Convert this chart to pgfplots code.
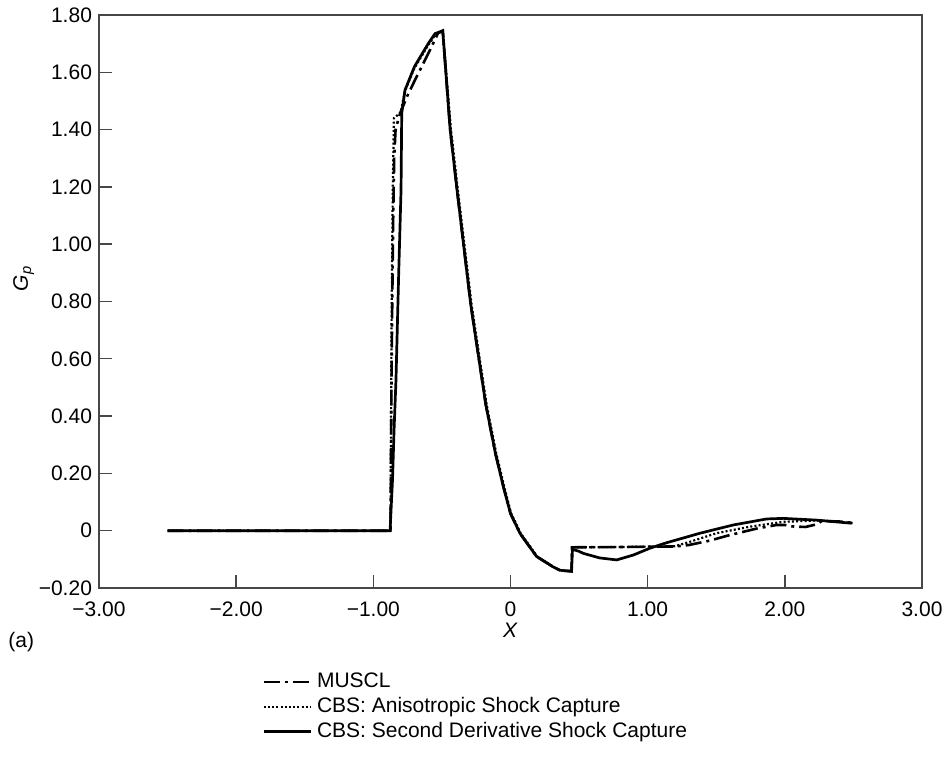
\documentclass[border=0pt]{standalone}
\usepackage{fontspec}
\setmainfont{Liberation Sans}
\usepackage{pgfplots}
\pgfplotsset{compat=1.18}
\begin{document}
\begin{tikzpicture}[font=\fontsize{10.5}{12.6}\selectfont]
\begin{axis}[
  name=ax,
  scale only axis,
  width=411.5pt, height=286.5pt,
  xmin=-3, xmax=3, ymin=-0.2, ymax=1.8,
  xtick={-3,-2,-1,0,1,2,3},
  xticklabels={−3.00,−2.00,−1.00,0,1.00,2.00,3.00},
  ytick={-0.2,0,0.2,0.4,0.6,0.8,1.0,1.2,1.4,1.6,1.8},
  yticklabels={−0.20,0,0.20,0.40,0.60,0.80,1.00,1.20,1.40,1.60,1.80},
  xticklabel style={yshift=-3.5pt},
  tick align=inside,
  xtick pos=lower, ytick pos=left,
  major tick length=6.5pt,
  axis line style={black!72, line width=0.7pt},
  tick style={black!72, line width=0.7pt},
  xlabel={\textit{X}},
  ylabel={\textit{G}\textsubscript{\textit{p}}},
  xlabel style={at={(axis description cs:0.5,0)}, anchor=center, yshift=-21pt},
  ylabel style={at={(axis description cs:-0.0915,0.54)}, anchor=center, rotate=0},
  clip=false,
  legend style={at={(axis description cs:0.198,-0.147)}, anchor=north west,
    draw=none, fill=none, inner sep=0pt, row sep=2.7pt,
    font=\fontsize{10.5}{12.6}\selectfont,
    nodes={inner xsep=2.5pt, inner ysep=0.3pt}},
  legend cell align=left,
  legend image code/.code={\draw[#1] (0pt,0pt) -- (23.5pt,0pt);},
]
% MUSCL
\addplot[black, line width=1.3pt, dash pattern=on 8pt off 2.5pt on 1.5pt off 2.5pt] coordinates {
(-2.5,0) (-0.875,0) (-0.872,0.2) (-0.868,0.5) (-0.862,0.8) (-0.855,1.1) (-0.848,1.3) (-0.838,1.40)
(-0.805,1.457) (-0.75,1.52) (-0.684,1.585) (-0.6,1.665) (-0.528,1.737) (-0.494,1.745)
(-0.44,1.40) (-0.39,1.19) (-0.34,0.99) (-0.29,0.79) (-0.24,0.63) (-0.18,0.44) (-0.11,0.27) (-0.05,0.15)
(0.0,0.06) (0.07,-0.01) (0.19,-0.09) (0.31,-0.126) (0.36,-0.138) (0.40,-0.14) (0.445,-0.141)
(0.448,-0.058) (0.8,-0.057) (1.2,-0.055) (1.30,-0.05) (1.45,-0.035) (1.6,-0.015) (1.8,0.008)
(1.94,0.02) (2.0,0.02) (2.05,0.015) (2.15,0.013) (2.23,0.022) (2.27,0.034) (2.4,0.032) (2.5,0.027)
};
\addlegendentry{MUSCL}
% CBS anisotropic
\addplot[black, line width=1.1pt, dash pattern=on 1pt off 1.1pt] coordinates {
(-2.5,0) (-0.875,0) (-0.872,0.3) (-0.866,0.8) (-0.858,1.2) (-0.85,1.44) (-0.80,1.46)
(-0.77,1.535) (-0.7,1.615) (-0.6,1.695) (-0.55,1.73) (-0.494,1.745)
(-0.434,1.40) (-0.384,1.19) (-0.334,0.99) (-0.284,0.79) (-0.234,0.63) (-0.174,0.44) (-0.104,0.27) (-0.044,0.15)
(0.005,0.06) (0.075,-0.01) (0.195,-0.09) (0.31,-0.126) (0.36,-0.138) (0.40,-0.14) (0.445,-0.141)
(0.448,-0.058) (0.8,-0.057) (1.2,-0.054) (1.3,-0.04) (1.5,-0.009) (1.745,0.014) (1.99,0.031)
(2.25,0.036) (2.5,0.027)
};
\addlegendentry{CBS: Anisotropic Shock Capture}
% CBS second derivative
\addplot[black, line width=1.35pt] coordinates {
(-2.5,0) (-0.878,0) (-0.86,0.18) (-0.849,0.35) (-0.835,0.525) (-0.815,0.9) (-0.798,1.19)
(-0.793,1.457) (-0.769,1.538) (-0.7,1.62) (-0.6,1.70) (-0.55,1.735) (-0.494,1.745)
(-0.44,1.40) (-0.39,1.19) (-0.34,0.99) (-0.29,0.79) (-0.24,0.63) (-0.18,0.44) (-0.11,0.27) (-0.05,0.15)
(0.0,0.06) (0.07,-0.01) (0.19,-0.09) (0.31,-0.126) (0.36,-0.138) (0.40,-0.14) (0.445,-0.142)
(0.452,-0.065) (0.5,-0.072) (0.53,-0.079) (0.65,-0.095) (0.774,-0.102) (0.895,-0.085)
(1.017,-0.061) (1.138,-0.042) (1.38,-0.009) (1.624,0.02) (1.867,0.041) (1.99,0.043)
(2.23,0.037) (2.487,0.026)
};
\addlegendentry{CBS: Second Derivative Shock Capture}
\node[anchor=west, inner sep=0pt] at (rel axis cs:0,0) [xshift=-45.5pt, yshift=-27pt] {(a)};
\end{axis}
\pgfresetboundingbox
\path[use as bounding box] ([xshift=-49.5pt, yshift=-85pt]ax.south west) rectangle ([xshift=13.5pt, yshift=7.5pt]ax.north east);
\end{tikzpicture}
\end{document}
